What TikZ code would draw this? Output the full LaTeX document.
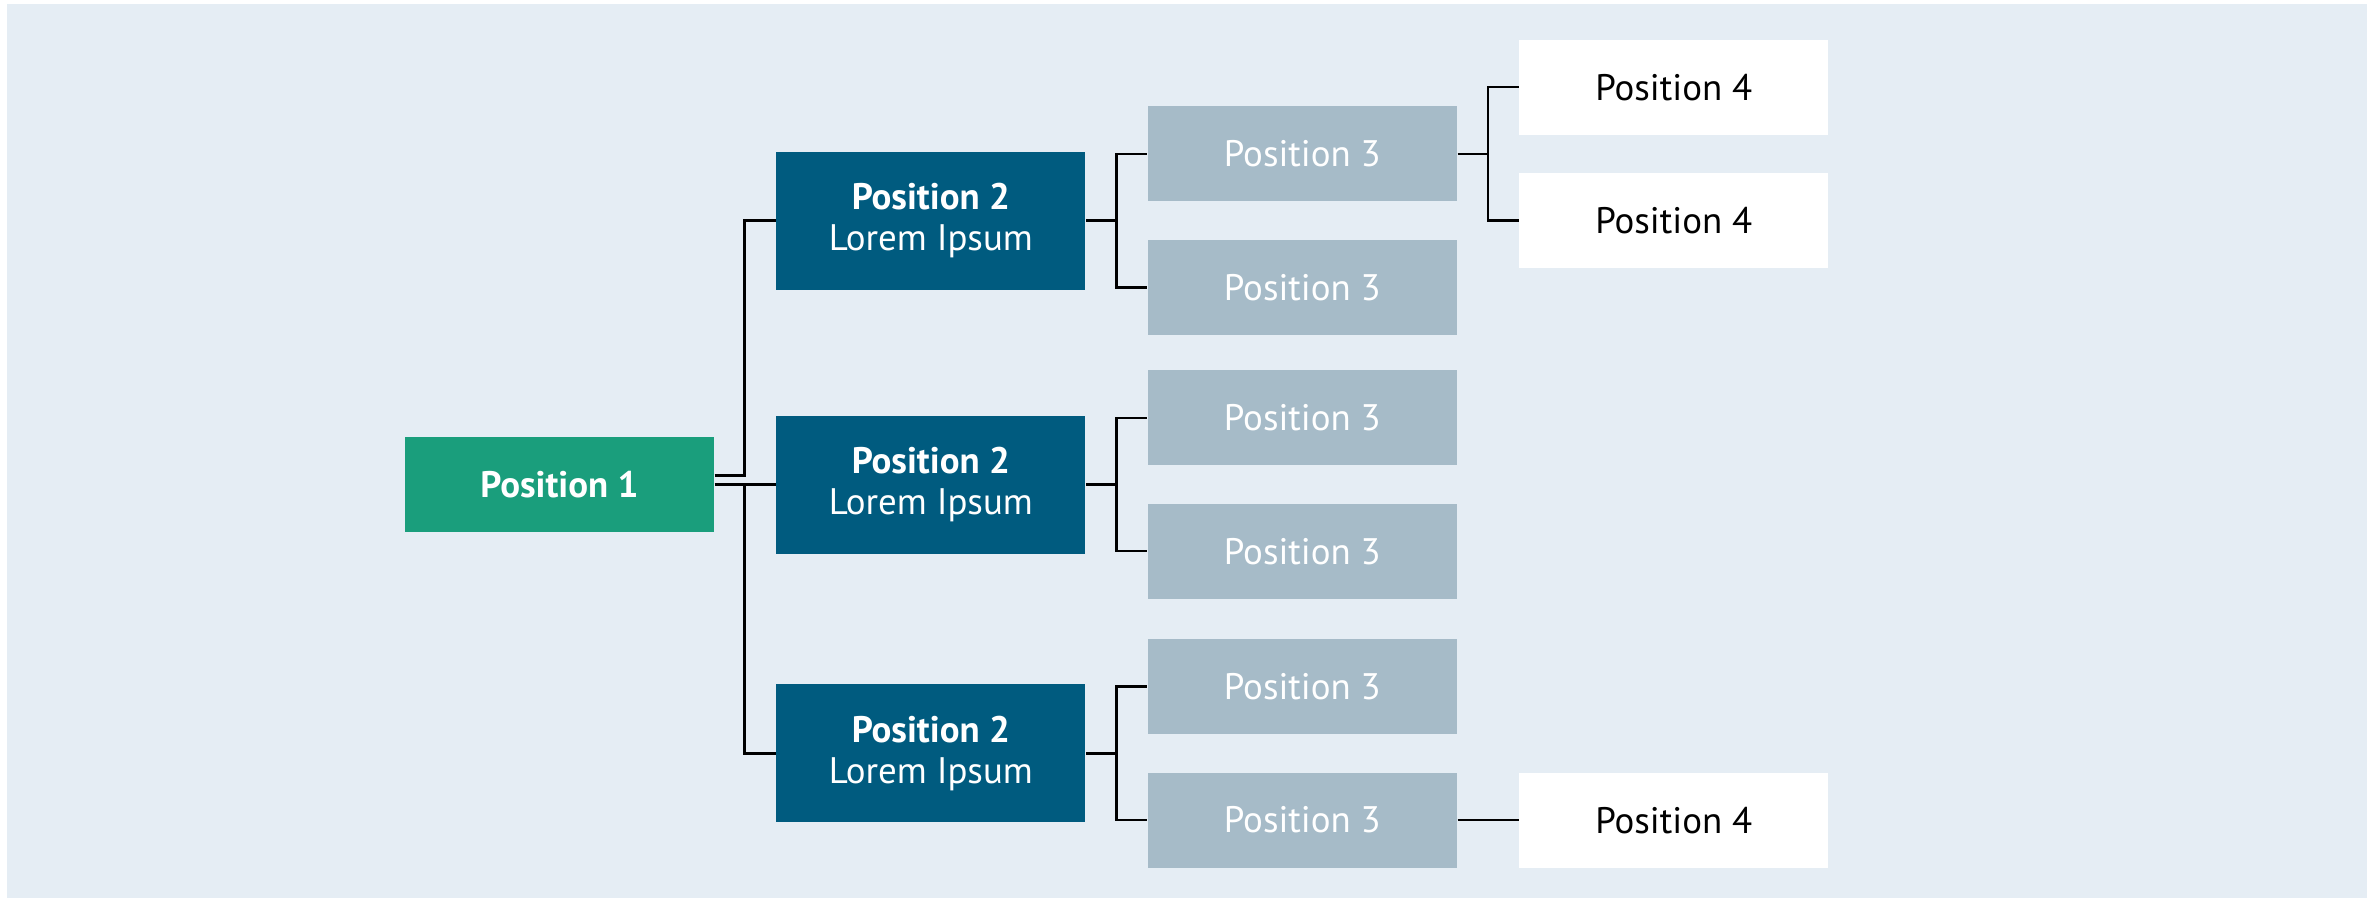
\documentclass[tikz,border=0pt]{standalone}
\usepackage{fontspec}
\setmainfont{PT Sans}
\definecolor{bg}{HTML}{E5EDF4}
\definecolor{pgreen}{HTML}{1A9E7C}
\definecolor{pblue}{HTML}{005B7F}
\definecolor{pgrey}{HTML}{A6BBC8}
\usetikzlibrary{positioning,calc}
\tikzset{
  box/.style={rectangle,inner sep=0pt,minimum width=3.09cm,minimum height=0.95cm,align=center,font=\fontsize{10.5}{11.5}\selectfont},
  lvlone/.style={box,fill=pgreen,text=white,font=\fontsize{10.5}{11.5}\selectfont\bfseries},
  lvltwo/.style={box,fill=pblue,text=white,minimum height=1.38cm},
  lvlthree/.style={box,fill=pgrey,text=white},
  lvlfour/.style={box,fill=white,text=black},
  link/.style={draw=black,line width=0.7pt},
}
\begin{document}
\begin{tikzpicture}[node distance=0.61cm]
\useasboundingbox (0,0) rectangle (23.79,-9);
\fill[bg] (0.07,-0.04) rectangle (23.67,-8.98);
% level 1 and 2
\node[lvlone] (p1) at (5.595,-4.845) {Position 1};
\node[lvltwo,right=of p1] (p2b) {\textbf{Position 2}\\Lorem Ipsum};
\node[lvltwo,above=1.245cm of p2b] (p2a) {\textbf{Position 2}\\Lorem Ipsum};
\node[lvltwo,below=1.295cm of p2b] (p2c) {\textbf{Position 2}\\Lorem Ipsum};
% level 3
\node[lvlthree,above right=0.185cm and 0.61cm of p2a.east,anchor=south west] (p3a) {Position 3};
\node[lvlthree,below right=0.185cm and 0.61cm of p2a.east,anchor=north west] (p3b) {Position 3};
\node[lvlthree,above right=0.185cm and 0.61cm of p2b.east,anchor=south west] (p3c) {Position 3};
\node[lvlthree,below right=0.185cm and 0.61cm of p2b.east,anchor=north west] (p3d) {Position 3};
\node[lvlthree,above right=0.185cm and 0.61cm of p2c.east,anchor=south west] (p3e) {Position 3};
\node[lvlthree,below right=0.185cm and 0.61cm of p2c.east,anchor=north west] (p3f) {Position 3};
% level 4
\node[lvlfour,above right=0.185cm and 0.61cm of p3a.east,anchor=south west] (p4a) {Position 4};
\node[lvlfour,below right=0.185cm and 0.61cm of p3a.east,anchor=north west] (p4b) {Position 4};
\node[lvlfour,right=of p3f] (p4c) {Position 4};
% connectors
\draw[link] ([yshift=0.9mm]p1.east) -- ++(0.3,0) |- (p2a);
\draw[link] (p1.east) -- ++(0.3,0) coordinate (j1) |- (p2c);
\draw[link] (j1) -- (p2b);
\foreach \a/\b/\c in {p2a/p3a/p3b,p2b/p3c/p3d,p2c/p3e/p3f,p3a/p4a/p4b}
  \draw[link] (\a.east) -- ++(0.305,0) coordinate (j) |- (\b) (j) |- (\c);
\draw[link] (p3f) -- (p4c);
\end{tikzpicture}
\end{document}
